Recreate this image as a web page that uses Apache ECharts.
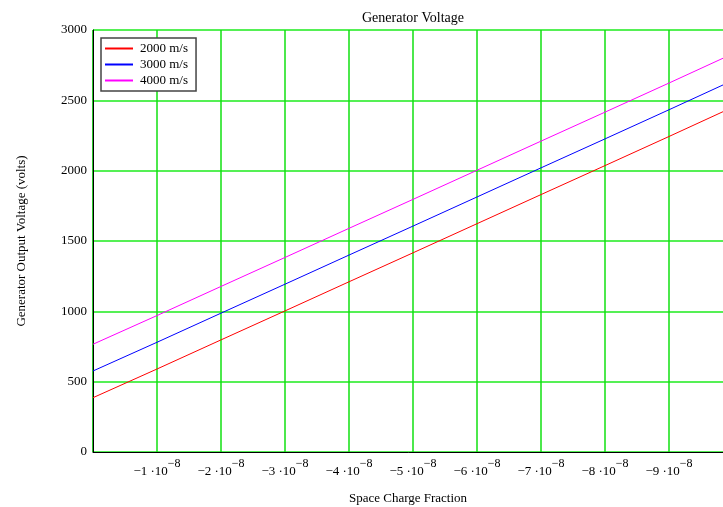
<!DOCTYPE html>
<html>
<head>
<meta charset="utf-8">
<script src="https://cdn.jsdelivr.net/npm/echarts@6/dist/echarts.min.js"></script>
<style>
  html, body { margin: 0; padding: 0; background: #fff; overflow: hidden; }
  #chart { width: 723px; height: 507px; }
</style>
</head>
<body>
<div id="chart"></div>
<script>
// Space charge fraction samples (x) and generator voltage for each beam speed
const spaceCharge = [0, -1e-8, -2e-8, -3e-8, -4e-8, -5e-8, -6e-8, -7e-8, -8e-8, -9e-8, -1e-7];
const volts2000 = [386, 590, 797, 1003, 1210, 1416, 1623, 1830, 2036, 2243, 2452];
const volts3000 = [576, 780, 987, 1193, 1400, 1606, 1813, 2020, 2226, 2433, 2642];
const volts4000 = [766, 970, 1177, 1383, 1590, 1796, 2003, 2210, 2416, 2623, 2832];
const seriesNames = ['2000 m/s', '3000 m/s', '4000 m/s'];
const seriesColors = ['#ff0000', '#0000ff', '#ff00ff'];
const yTicks = [0, 500, 1000, 1500, 2000, 2500, 3000];

const serif = '"Liberation Serif", "DejaVu Serif", serif';

function pairs(ys) { return spaceCharge.map((x, i) => [x, ys[i]]); }

const chart = echarts.init(document.getElementById('chart'), null, { renderer: 'canvas' });

chart.setOption({
  animation: false,
  backgroundColor: '#ffffff',
  textStyle: { fontFamily: serif },
  title: {
    text: 'Generator Voltage',
    left: 408, top: 6,
    textAlign: 'center',
    textStyle: { fontFamily: serif, fontSize: 14, fontWeight: 'normal', color: '#000' }
  },
  legend: {
    data: seriesNames,
    orient: 'vertical',
    left: 101, top: 38,
    itemWidth: 28, itemHeight: 2, itemGap: 3,
    padding: [4, 8, 4, 4],
    borderColor: '#444', borderWidth: 1.5, borderRadius: 0,
    backgroundColor: '#fff',
    icon: 'rect',
    textStyle: { fontFamily: serif, fontSize: 13, color: '#000', padding: [0, 0, 0, 2] }
  },
  // the plot runs on past the right edge of the canvas, out to -1e-7
  grid: {
    left: 93, top: 30, width: 640, height: 422,
    containLabel: false,
    outerBoundsMode: 'none',
    show: true, borderColor: '#000', borderWidth: 1, backgroundColor: '#fff'
  },
  xAxis: {
    type: 'value',
    min: -1e-7, max: 0, interval: 1e-8,
    inverse: true,
    name: 'Space Charge Fraction',
    nameLocation: 'middle',
    nameGap: 40,
    nameTextStyle: { fontFamily: serif, fontSize: 13, color: '#000', padding: [0, 10, 0, 0] },
    axisLine: { show: true, lineStyle: { color: '#000', width: 1 } },
    axisTick: { show: false },
    splitLine: { show: true, lineStyle: { color: '#11e011', width: 1.5 } },
    axisLabel: {
      margin: 5,
      formatter: function (v) {
        const n = Math.round(v / 1e-8);
        if (n === 0 || n === -10) return '';
        return '{a|\u2212' + Math.abs(n) + ' \u00b710}{s|\u22128}';
      },
      rich: {
        a: { fontFamily: serif, fontSize: 13, color: '#000', padding: [8, 0, 0, 0] },
        s: { fontFamily: serif, fontSize: 12, color: '#000', padding: [0, 0, 7, 0] }
      }
    }
  },
  yAxis: {
    type: 'value',
    min: 0, max: 3000, interval: 500,
    name: 'Generator Output Voltage (volts)',
    nameLocation: 'middle',
    nameGap: 65,
    nameTextStyle: { fontFamily: serif, fontSize: 13, color: '#000' },
    axisLine: { show: true, lineStyle: { color: '#000', width: 1 } },
    axisTick: { show: false },
    splitLine: { show: true, lineStyle: { color: '#55f055', width: 2 } },
    axisLabel: {
      margin: 6,
      fontFamily: serif, fontSize: 13, color: '#000',
      formatter: function (v) { return yTicks.indexOf(v) >= 0 ? String(v) : ''; }
    }
  },
  series: [volts2000, volts3000, volts4000].map((ys, i) => ({
    name: seriesNames[i],
    type: 'line',
    data: pairs(ys),
    showSymbol: false,
    symbol: 'none',
    lineStyle: { color: seriesColors[i], width: 1 },
    itemStyle: { color: seriesColors[i] },
    z: 5
  }))
});
</script>
</body>
</html>
